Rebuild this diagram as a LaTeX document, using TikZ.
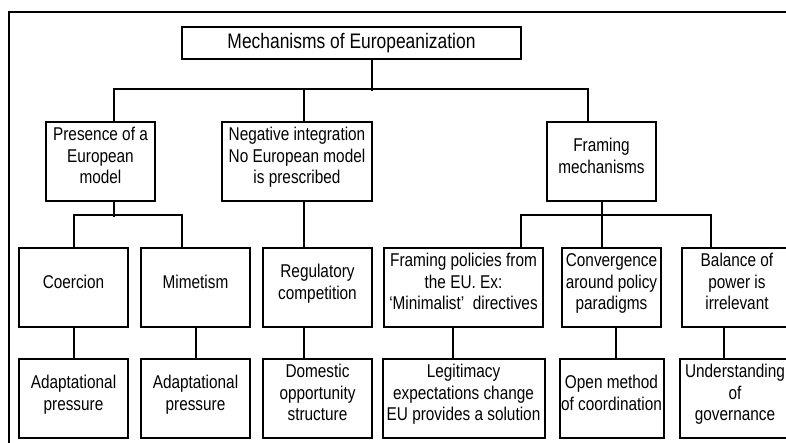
\documentclass[tikz,border=0pt]{standalone}
\usepackage{fontspec}
\setmainfont[FakeStretch=0.83]{Liberation Sans}
\usetikzlibrary{positioning}

\begin{document}
\begin{tikzpicture}[x=1pt, y=1pt]

        \def\d{30pt}
        \def\h{79pt}
        % an empty last line, pulled back up: the text sits above the middle
        \def\lift{\\[-10pt]}

        % Every box of the tree has the same outline and font
        \tikzset{mbox/.style={draw, line width=2pt, align=center,
            inner sep=0pt, minimum height=\h,
            font=\fontsize{18.5}{21.5}\selectfont}}

        \useasboundingbox (0,0) rectangle (786,443);
        \clip (0,0) rectangle (786,443);

        % Outer frame, cut off at the right and at the bottom
        \draw[line width=1.6pt] (9,0) -- (9,431) -- (786,431);

        \begin{scope}
            \node (top) [mbox, minimum width=339pt, minimum height=32pt,
            font=\fontsize{21}{24}\selectfont] at (351.5,400)
            {Mechanisms of Europeanization};

            \node (pres) [mbox, minimum width=109pt] at (100.5,281.5)
            {Presence of a\\ European\\ model\lift};
            \node (neg) [mbox, minimum width=150pt] at (297,281.5)
            {Negative integration\\ No European model\\ is prescribed\lift};
            \node (fram) [mbox, minimum width=109pt] at (601.5,281.5)
            {Framing\\ mechanisms\lift};

            \node (coer) [mbox, minimum width=109pt] at (73.5,155.5)
            {Coercion\lift};
            \node (mime) [mbox, minimum width=109pt] at (195.5,155.5)
            {Mimetism\lift};
            \node (reg) [mbox, minimum width=109pt] at (317.5,155.5)
            {Regulatory\\ competition\lift};
            \node (fpol) [mbox, minimum width=159pt] at (463.5,155.5)
            {Framing policies from\\ the EU. Ex:\\ ‘Minimalist’\ \ directives\lift};
            \node (conv) [mbox, minimum width=99pt] at (611.5,155.5)
            {Convergence\\ around policy\\ paradigms\lift};
            \node (bal) [mbox, minimum width=110pt] at (737,155.5)
            {Balance of\\ power is\\ irrelevant\lift};

            \node (adp1) [mbox, minimum width=109pt, below=\d of coer]
            {Adaptational\\ pressure\lift};
            \node (adp2) [mbox, minimum width=109pt, below=\d of mime]
            {Adaptational\\ pressure\lift};
            \node (dom) [mbox, minimum width=109pt, below=\d of reg]
            {Domestic\\ opportunity\\ structure\lift};
            \node (legit) [mbox, minimum width=162pt, below=\d of fpol]
            {Legitimacy\\ expectations change\\ EU provides a solution\lift};
            \node (omc) [mbox, minimum width=104pt, below=\d of conv]
            {Open method\\ of coordination\lift};
            \node (und) [mbox, minimum width=110pt, below=\d of bal,
            xshift=-2pt] {Understanding\\ of\\ governance\lift};
        \end{scope}

        \begin{scope}[line width=2pt]
            \draw ([xshift=20.5pt]top.south) -- ++(0,-31pt);
            \draw ([xshift=13.5pt]pres.north) -- ++(0,32pt)
                -| ([xshift=-13.5pt]fram.north);
            \draw ([xshift=7pt]neg.north) -- ++(0,32pt);

            \draw ([xshift=13.5pt]pres.south) -- ++(0,-15pt);
            \draw (coer.north) -- ++(0,32pt) -| ([xshift=-13.5pt]mime.north);
            \draw ([xshift=7pt]neg.south) -- ++(0,-47pt);
            \draw (fram.south) -- ++(0,-15pt);
            \draw ([xshift=57.5pt]fpol.north) -- ++(0,32pt)
                -| ([xshift=-26pt]bal.north);
            \draw ([xshift=-9.5pt]conv.north) -- ++(0,32pt);

            \foreach \a/\b/\s in {coer/adp1/0, mime/adp2/0, reg/dom/-13.5,
                fpol/legit/-10.5, conv/omc/4.5, bal/und/-13}
            \draw ([xshift=\s pt]\a.south) -- ([xshift=\s pt]\a.south |- \b.north);
        \end{scope}

\end{tikzpicture}
\end{document}
